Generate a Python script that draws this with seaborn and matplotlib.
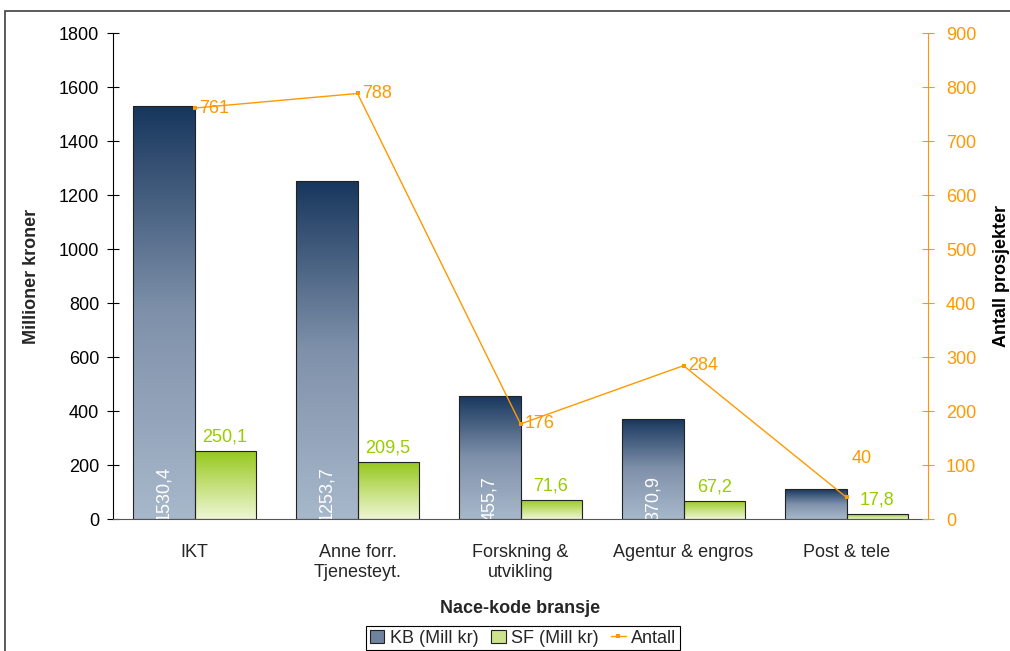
import numpy as np
import pandas as pd
import matplotlib
matplotlib.use("Agg")
import matplotlib.pyplot as plt
import seaborn as sns
from matplotlib.colors import LinearSegmentedColormap
from matplotlib.patches import Patch, Rectangle
from matplotlib.lines import Line2D

categories = ["IKT", "Anne forr.\nTjenesteyt.", "Forskning &\nutvikling", "Agentur & engros", "Post & tele"]
kb = [1530.4, 1253.7, 455.7, 370.9, 111.0]
kb_labels = ["1530,4", "1253,7", "455,7", "370,9", ""]
sf = [250.1, 209.5, 71.6, 67.2, 17.8]
antall = [761, 788, 176, 284, 40]
series_names = ["KB (Mill kr)", "SF (Mill kr)", "Antall"]
left_ticks = list(range(0, 1801, 200))
right_ticks = list(range(0, 901, 100))

ORANGE = "#FF9900"
GREEN_TXT = "#99CC00"
FS = 13

sns.set_style("white")
plt.rcParams["font.family"] = ["Liberation Sans", "DejaVu Sans"]
plt.rcParams["font.size"] = FS

df = pd.DataFrame({
    "cat": categories * 2,
    "val": kb + sf,
    "serie": [series_names[0]] * len(kb) + [series_names[1]] * len(sf),
})

fig = plt.figure(figsize=(10.1, 6.51), dpi=100)
ax = fig.add_axes([113 / 1010, 1 - 519 / 651, (928 - 113) / 1010, (519 - 33) / 651])
ax.set_facecolor("none")

sns.barplot(data=df, x="cat", y="val", hue="serie", order=categories,
            hue_order=series_names[:2], palette=["#5a6f8f", "#c5e07a"],
            width=0.75, gap=0, ax=ax, legend=False, edgecolor="#222222",
            linewidth=0.8, saturation=1, err_kws={"linewidth": 0})

cmaps = [
    LinearSegmentedColormap.from_list("kb", ["#A8B8CB", "#7F91AA", "#17365D"]),
    LinearSegmentedColormap.from_list("sf", ["#EEF6D4", "#C4E07A", "#96C81E"]),
]
grad = np.linspace(0, 1, 256).reshape(-1, 1)
for cont, cmap in zip(ax.containers, cmaps):
    for p in cont.patches:
        x0, w, h = p.get_x(), p.get_width(), p.get_height()
        im = ax.imshow(grad, extent=[x0, x0 + w, 0, h], origin="lower", cmap=cmap,
                       aspect="auto", zorder=p.get_zorder() - 0.1, interpolation="bilinear")
        im.set_clip_path(p)
        p.set_facecolor("none")

kb_patches = ax.containers[0].patches
sf_patches = ax.containers[1].patches
for p, lab in zip(kb_patches, kb_labels):
    if lab:
        t = ax.annotate(lab, (p.get_x() + p.get_width() / 2, 0), xytext=(0, -1.5),
                        textcoords="offset points", rotation=90, ha="center", va="bottom",
                        color="white", fontsize=FS, zorder=5)
        t.set_clip_path(ax.patch)
for p, v in zip(sf_patches, sf):
    ax.annotate(f"{v:.1f}".replace(".", ","), (p.get_x() + p.get_width() / 2, v),
                xytext=(0, 4), textcoords="offset points", ha="center", va="bottom",
                color=GREEN_TXT, fontsize=FS)

ax.set_xlim(-0.5, len(categories) - 0.5)
ax.set_ylim(0, 1800)
ax.set_yticks(left_ticks)
ax.set_yticklabels([str(t) for t in left_ticks])
ax.set_xticks(np.arange(-0.5, len(categories), 1.0))
ax.set_xticklabels([""] * (len(categories) + 1))
ax.set_xticks(np.arange(len(categories)), minor=True)
ax.set_xticklabels(categories, minor=True, linespacing=1.2)
ax.tick_params(axis="y", direction="inout", length=8, width=0.8, colors="black", pad=6, labelsize=FS)
ax.tick_params(axis="x", which="major", direction="inout", length=8, width=0.8, colors="black")
ax.tick_params(axis="x", which="minor", length=0, pad=18, labelsize=FS)
for s in ["top", "right"]:
    ax.spines[s].set_visible(False)
ax.spines["left"].set_color("black")
ax.spines["left"].set_linewidth(0.8)
ax.spines["bottom"].set_color("#555555")
ax.spines["bottom"].set_linewidth(0.8)
ax.set_xlabel("Nace-kode bransje", fontweight="bold", fontsize=FS, labelpad=14)
ax.set_ylabel("Millioner kroner", fontweight="bold", fontsize=FS)
ax.yaxis.set_label_coords((40 - 113) / 815, 0.5)

ax2 = ax.twinx()
sns.lineplot(x=np.arange(len(antall)), y=antall, ax=ax2, color=ORANGE, marker="s",
             markersize=3.5, markeredgewidth=0, linewidth=1)
ax2.set_xlim(-0.5, len(categories) - 0.5)
ax2.set_ylim(0, 900)
ax2.set_yticks(right_ticks)
ax2.set_yticklabels([str(t) for t in right_ticks])
ax2.tick_params(axis="y", direction="inout", length=8, width=0.8, colors=ORANGE, pad=9, labelsize=FS)
for s in ["top", "left", "bottom"]:
    ax2.spines[s].set_visible(False)
ax2.spines["right"].set_color(ORANGE)
ax2.spines["right"].set_linewidth(0.8)
ax2.set_ylabel("Antall prosjekter", fontweight="bold", fontsize=FS, color="black", labelpad=12)

for i, v in enumerate(antall):
    off = (3, 0) if i < len(antall) - 1 else (4, 28)
    ax2.annotate(str(v), (i, v), xytext=off, textcoords="offset points",
                 ha="left", va="center", color=ORANGE, fontsize=FS)

handles = [
    Patch(facecolor="#6F829E", edgecolor="#222222", linewidth=0.8),
    Patch(facecolor="#CDE48C", edgecolor="#222222", linewidth=0.8),
    Line2D([0], [0], color=ORANGE, marker="s", markersize=3, markeredgewidth=0, linewidth=1),
]
leg = fig.legend(handles, series_names, loc="upper center", bbox_to_anchor=(0.518, 1 - 626 / 651),
                 ncol=3, frameon=True, fancybox=False, edgecolor="black", framealpha=1,
                 fontsize=FS, handlelength=0.8, handleheight=0.8, handletextpad=0.3,
                 columnspacing=0.7, borderpad=0.2, borderaxespad=0)
leg.get_frame().set_linewidth(0.8)

fig.add_artist(Rectangle((5 / 1010, -0.1), 1.2, (1 - 11 / 651) + 0.1, transform=fig.transFigure,
                         fill=False, edgecolor="#404040", linewidth=1.2))

fig.savefig("out.png", dpi=100)
